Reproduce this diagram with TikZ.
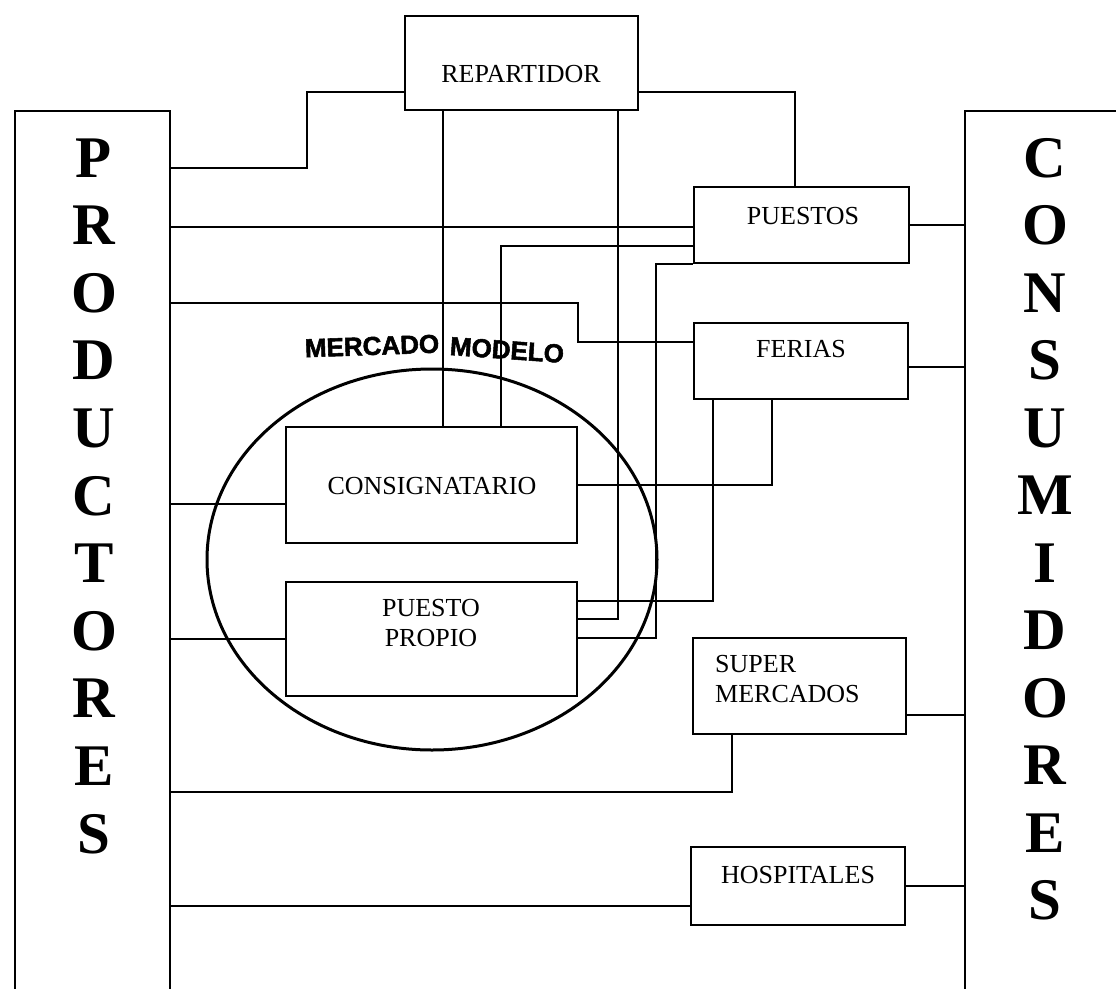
\documentclass[tikz,border=0pt]{standalone}
\usepackage{fontspec}
\setmainfont{Liberation Serif}
\newfontfamily\mmfont[FakeBold=2]{Liberation Sans Bold}
\usetikzlibrary{shapes.geometric}
\begin{document}
\begin{tikzpicture}[x=1pt,y=1pt,
  box/.style={draw, line width=1.6pt, rectangle, inner sep=0pt},
  conn/.style={line width=1.5pt},
  lbl/.style={font=\fontsize{26}{30}\selectfont, inner sep=0pt},
  mmlbl/.style={font=\mmfont\fontsize{26}{26}\selectfont, inner sep=0pt},
  big/.style={font=\fontsize{59}{60}\selectfont\bfseries, inner sep=0pt, anchor=base}]
\useasboundingbox (0,0) rectangle (1116,-988);
\fill[white] (0,0) rectangle (1116,-988);
\clip (0,0) rectangle (1116,-988);

% side panels
\node[box, minimum width=155pt, minimum height=900pt] (prod) at (92.5,-561) {};
\node[box, minimum width=155pt, minimum height=900pt] (cons) at (1042.5,-561) {};
\foreach \l [count=\i from 0] in {P,R,O,D,U,C,T,O,R,E,S}
  \node[big] (p\i) at (94,{-177-67.6*\i}) {\l};
\foreach \l [count=\i from 0] in {C,O,N,S,U,M,I,D,O,R,E,S}
  \node[big] (c\i) at (1045,{-177-67.5*\i}) {\l};

% boxes
\node[box, minimum width=233pt, minimum height=94pt] (rep) at (521.5,-63) {};
\node[box, minimum width=215pt, minimum height=76pt] (puestos) at (801.5,-225) {};
\node[box, minimum width=214pt, minimum height=76pt] (ferias) at (801,-361) {};
\node[box, minimum width=291pt, minimum height=116pt] (consig) at (431.5,-485) {};
\node[box, minimum width=291pt, minimum height=114pt] (propio) at (431.5,-639) {};
\node[box, minimum width=213pt, minimum height=96pt] (super) at (799.5,-686) {};
\node[box, minimum width=214pt, minimum height=78pt] (hosp) at (798,-886) {};

% mercado modelo
\node[ellipse, draw, line width=3pt, minimum width=450pt, minimum height=381pt, inner sep=0pt] (mm) at (432,-559.5) {};
\node[mmlbl, rotate=2] (mm1) at (372,-346) {MERCADO};
\node[mmlbl, rotate=-4] (mm2) at (507,-350) {MODELO};

% labels
\node[lbl, anchor=base] (trep) at (521,-82) {REPARTIDOR};
\node[lbl, anchor=base] (tpue) at (803,-224) {PUESTOS};
\node[lbl, anchor=base] (tfer) at (801,-357) {FERIAS};
\node[lbl, anchor=base] (tcon) at (432,-494) {CONSIGNATARIO};
\node[lbl, align=center] (tpro) at (431,-623) {PUESTO\\PROPIO};
\node[lbl, align=left, anchor=west] (tsup) at (715,-679.5) {SUPER\\MERCADOS};
\node[lbl, anchor=base] (thos) at (798,-883) {HOSPITALES};

% connectors
\draw[conn] (prod.east |- 0,-168) -- (307,-168) -- (307,-92) -- (rep.west |- 0,-92);
\draw[conn] (rep.east |- 0,-92) -| (puestos.north -| 795,0);
\draw[conn] (rep.south -| 443,0) -- (consig.north -| 443,0);
\draw[conn] (rep.south -| 618,0) -- (618,-619) -- (propio.east |- 0,-619);
\draw[conn] (prod.east |- 0,-227) -- (puestos.west |- 0,-227);
\draw[conn] (consig.north -| 501,0) |- (puestos.west |- 0,-246);
\draw[conn] (propio.east |- 0,-638) -- (656,-638) -- (puestos.south west -| 656,0) -- (puestos.south west);
\draw[conn] (prod.east |- 0,-303) -- (578,-303) -- (578,-342) -- (ferias.west |- 0,-342);
\draw[conn] (propio.east |- 0,-601) -| (ferias.south -| 713,0);
\draw[conn] (consig.east) -| (ferias.south -| 772,0);
\draw[conn] (prod.east |- 0,-504) -- (consig.west |- 0,-504);
\draw[conn] (prod.east |- 0,-639) -- (propio.west);
\draw[conn] (prod.east |- 0,-792) -| (super.south -| 732,0);
\draw[conn] (prod.east |- 0,-906) -- (hosp.west |- 0,-906);
\draw[conn] (puestos.east) -- (cons.west |- puestos.east);
\draw[conn] (ferias.east |- 0,-367) -- (cons.west |- 0,-367);
\draw[conn] (super.east |- 0,-715) -- (cons.west |- 0,-715);
\draw[conn] (hosp.east) -- (cons.west |- hosp.east);
\end{tikzpicture}
\end{document}
